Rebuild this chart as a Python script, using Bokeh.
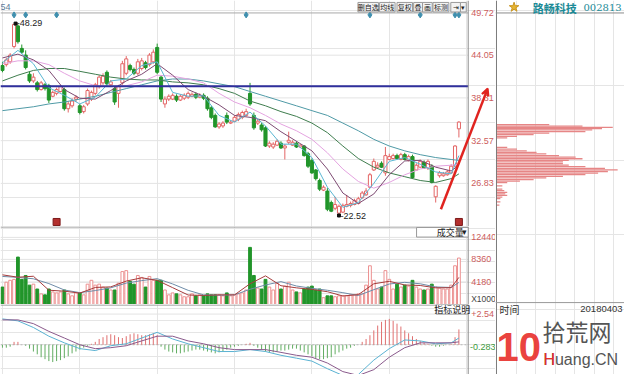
from bokeh.plotting import figure
from bokeh.models import Range1d, Span, Label, BoxAnnotation, Arrow, VeeHead, ColumnDataSource
from bokeh.layouts import row, column
from bokeh.embed import file_html
from bokeh.resources import INLINE

# ---------------- data ----------------
opens = [42.65, 42.78, 43.16, 45.22, 47.98, 44.96, 44.06, 41.49, 40.59, 40.33,
         39.43, 40.07, 39.95, 38.53, 38.92, 39.17, 39.43, 36.86, 37.25, 38.15,
         37.25, 36.47, 37.50, 38.15, 38.92, 39.82, 40.33, 41.75, 40.07, 39.56,
         38.92, 40.33, 41.62, 42.65, 42.13, 41.62, 42.26, 43.03, 42.78, 43.16,
         45.09, 41.10, 37.50, 38.15, 38.15, 38.53, 38.02, 38.27, 38.40, 38.53,
         38.79, 38.40, 38.66, 38.27, 36.99, 35.96, 34.42, 34.55, 35.96, 34.93,
         35.19, 35.45, 35.70, 35.96, 38.92, 35.96, 34.93, 34.67, 34.29, 31.85,
         31.72, 31.97, 32.23, 31.59, 32.36, 31.97, 32.23, 31.72, 31.85, 30.82,
         29.92, 28.63, 27.22, 25.93, 25.80, 24.26, 23.49, 22.84, 22.97, 23.75,
         23.88, 24.00, 24.13, 24.90, 25.29, 26.32, 28.63, 29.01, 29.53, 28.24,
         30.04, 30.17, 30.56, 30.04, 30.69, 29.92, 30.43, 28.63, 29.01, 29.66,
         28.89, 29.14, 25.03, 27.86, 27.86, 27.99, 28.24, 29.14, 34.16]
highs = [43.16, 43.68, 44.32, 48.29, 48.18, 45.48, 44.70, 41.88, 41.62, 40.59,
         40.59, 40.33, 40.20, 39.30, 39.69, 40.07, 39.69, 37.89, 38.27, 38.66,
         37.50, 37.37, 39.56, 39.30, 40.33, 41.36, 41.62, 42.00, 40.72, 39.82,
         40.07, 43.29, 43.93, 42.90, 42.39, 43.55, 43.68, 43.29, 44.32, 44.83,
         45.60, 41.36, 38.53, 38.79, 38.92, 38.79, 38.79, 38.92, 39.17, 39.05,
         39.05, 38.92, 38.92, 38.53, 37.25, 36.22, 35.06, 35.19, 36.35, 35.32,
         35.96, 36.35, 36.60, 36.86, 40.33, 36.35, 35.45, 34.93, 34.55, 32.49,
         32.36, 32.75, 32.49, 32.10, 33.78, 32.62, 32.49, 32.10, 31.97, 31.07,
         30.17, 28.76, 27.47, 26.57, 26.19, 24.52, 25.03, 24.00, 24.13, 25.29,
         24.39, 24.77, 25.03, 25.80, 26.19, 28.24, 30.17, 29.66, 29.79, 31.72,
         30.82, 30.82, 30.82, 30.94, 30.94, 30.69, 30.69, 29.53, 30.04, 29.92,
         30.04, 29.40, 26.57, 28.50, 28.37, 28.63, 29.40, 31.97, 35.19]
lows = [41.75, 42.52, 42.90, 44.96, 45.60, 44.19, 42.13, 40.33, 40.33, 39.17,
        39.30, 39.30, 37.63, 38.40, 38.66, 39.05, 36.60, 36.35, 36.99, 37.76,
        36.09, 36.22, 37.25, 37.89, 38.66, 39.56, 40.07, 39.95, 39.82, 37.37,
        36.99, 40.07, 41.36, 41.88, 41.36, 41.36, 42.00, 42.13, 42.52, 42.90,
        41.49, 37.76, 36.99, 37.89, 38.02, 37.76, 37.89, 38.02, 38.15, 38.40,
        38.15, 38.27, 38.02, 36.60, 35.45, 34.29, 34.16, 34.29, 34.80, 34.80,
        35.06, 35.19, 35.45, 35.83, 37.25, 34.03, 34.67, 33.78, 31.72, 31.59,
        31.46, 31.85, 31.46, 30.04, 32.10, 31.85, 31.59, 31.59, 30.43, 28.89,
        28.11, 27.22, 25.80, 25.80, 23.10, 22.97, 23.23, 22.52, 22.84, 23.62,
        23.62, 23.88, 24.00, 24.77, 25.16, 26.19, 28.50, 28.89, 28.89, 27.86,
        29.92, 30.04, 30.04, 29.92, 29.92, 29.79, 27.47, 28.50, 28.89, 28.76,
        28.63, 26.83, 24.26, 27.60, 27.73, 27.86, 28.11, 29.01, 33.00]
closes = [42.00, 43.42, 44.06, 48.18, 45.86, 44.45, 42.39, 40.59, 41.10, 39.43,
          40.33, 39.56, 38.02, 39.05, 39.43, 39.82, 36.86, 37.50, 37.89, 38.40,
          36.35, 37.12, 39.30, 39.05, 40.07, 41.10, 41.23, 40.20, 40.46, 37.76,
          39.82, 42.90, 43.55, 42.13, 41.62, 43.16, 43.29, 42.39, 44.06, 44.45,
          41.75, 38.15, 38.15, 38.53, 38.66, 38.02, 38.53, 38.66, 38.92, 38.79,
          38.40, 38.66, 38.27, 36.86, 35.70, 34.42, 34.80, 34.93, 35.06, 35.06,
          35.70, 36.09, 36.35, 36.47, 37.50, 34.29, 35.19, 34.03, 31.85, 32.23,
          32.10, 32.49, 31.59, 31.85, 32.62, 32.36, 31.72, 31.97, 30.56, 29.14,
          28.24, 27.47, 26.06, 26.32, 23.36, 23.10, 24.00, 23.75, 23.88, 24.00,
          24.13, 24.52, 24.77, 25.54, 25.80, 27.99, 29.79, 29.27, 29.01, 30.56,
          30.43, 30.56, 30.17, 30.69, 30.04, 30.43, 27.60, 29.27, 29.79, 28.89,
          29.79, 26.96, 26.44, 28.24, 28.11, 28.37, 29.14, 31.85, 35.06]
volumes = [3230, 4130, 4485, 4660, 8790, 4660, 5380, 3590, 3770, 2870,
           1970, 1790, 2870, 2330, 2150, 2330, 2690, 1970, 1610, 2150,
           2150, 1790, 3770, 4485, 3590, 3770, 3230, 3050, 2690, 2690,
           3950, 6100, 6280, 4300, 3770, 5380, 5020, 3230, 5200, 4485,
           4485, 4485, 2690, 1790, 2150, 1970, 1790, 1435, 1435, 1970,
           1610, 1790, 1610, 1970, 1790, 1790, 1790, 1610, 2150, 1610,
           1790, 1970, 2150, 2690, 10590, 5380, 3050, 2870, 4660, 3230,
           2690, 3950, 2870, 3410, 4130, 2690, 2330, 2150, 2870, 3230,
           3410, 2690, 2870, 1260, 1610, 1610, 1435, 1610, 1610, 1610,
           1790, 1790, 1970, 1970, 3590, 7180, 4480, 2870, 3230, 6280,
           4660, 2870, 3770, 3230, 3590, 3410, 4480, 3230, 2870, 2690,
           2870, 3770, 3230, 3050, 2870, 2870, 3590, 7180, 8610]
macd_hist = [-0.24, -0.24, -0.16, 0.24, 0.24, 0, -0.08, -0.32, -0.56, -0.79,
             -1.03, -1.19, -1.35, -1.43, -1.35, -1.27, -1.11, -0.95, -0.71, -0.56,
             -0.40, -0.24, -0.08, 0.08, 0.24, 0.48, 0.63, 0.79, 0.87, 0.79,
             0.63, 0.56, 0.71, 0.87, 0.95, 0.87, 0.79, 0.79, 0.87, 0.95,
             0.79, -0.16, -0.40, -0.56, -0.63, -0.71, -0.71, -0.63, -0.56, -0.48,
             -0.40, -0.40, -0.48, -0.56, -0.63, -0.71, -0.63, -0.56, -0.40, -0.24,
             -0.16, -0.08, 0, 0.08, 0.16, -0.08, -0.24, -0.40, -0.56, -0.63,
             -0.63, -0.56, -0.48, -0.48, -0.40, -0.32, -0.32, -0.48, -0.63, -0.79,
             -0.95, -1.11, -1.19, -1.19, -1.11, -1.03, -0.79, -0.63, -0.48, -0.32,
             -0.24, -0.08, 0, 0.24, 0.48, 0.79, 1.19, 1.59, 1.90, 2.06,
             2.14, 1.98, 1.75, 1.51, 1.19, 0.95, 0.71, 0.48, 0.32, 0.16,
             0.08, -0.08, -0.16, -0.16, -0.08, 0, 0.08, 0.63, 1.27]

# moving averages, read at every 4th session
ma_idx = [0, 4, 8, 12, 16, 20, 24, 28, 32, 36, 40, 44, 48, 52, 56, 60,
          64, 68, 72, 76, 80, 84, 88, 92, 96, 100, 104, 108, 112, 116, 118]
ma5 = [43.03, 44.70, 42.90, 39.69, 38.66, 37.50, 38.40, 40.59, 40.85, 42.65, 43.16, 39.05, 38.53, 38.60, 35.96, 35.06,
       36.41, 34.55, 32.10, 32.10, 30.30, 26.32, 23.62, 24.26, 26.83, 29.79, 30.30, 29.40, 28.37, 28.11, 30.56]
ma10 = [43.68, 44.19, 43.42, 42.00, 39.43, 38.27, 38.15, 39.30, 40.59, 41.49, 42.90, 41.36, 39.43, 38.53, 37.37, 35.96,
        35.70, 35.25, 33.77, 32.49, 31.20, 28.76, 25.54, 24.13, 25.41, 27.99, 29.85, 29.92, 29.01, 28.50, 29.27]
ma20 = [42.90, 43.29, 43.29, 42.78, 41.62, 40.59, 39.95, 39.82, 39.95, 40.46, 41.36, 41.23, 40.85, 40.33, 38.92, 37.76,
        36.99, 35.96, 34.80, 33.90, 32.75, 30.94, 28.76, 27.09, 26.19, 26.96, 27.99, 28.76, 29.14, 29.27, 29.40]
ma30 = [40.59, 41.36, 42.00, 42.26, 42.26, 41.88, 41.49, 41.10, 40.85, 40.72, 40.72, 40.46, 40.33, 40.07, 39.56, 38.92,
        37.89, 37.25, 36.47, 35.83, 34.93, 33.65, 31.85, 30.17, 29.01, 28.24, 27.73, 27.22, 26.96, 27.47, 28.11]
ma60 = [36.60, 36.86, 37.12, 37.50, 37.76, 38.15, 38.53, 39.05, 39.56, 40.07, 40.59, 40.85, 40.85, 40.59, 40.20, 39.82,
        39.17, 38.53, 37.89, 37.25, 36.60, 35.96, 34.93, 33.90, 32.75, 31.85, 31.20, 30.69, 30.30, 30.04, 29.92]
vol_ma5 = [5500, 5060, 5240, 2650, 2470, 2110, 3160, 3270, 4340, 4950, 4480, 3120, 1760, 1680, 1790, 1790,
           3840, 5310, 3480, 3090, 2800, 2370, 1580, 1830, 3840, 4300, 3620, 3520, 3090, 3120, 5020]
vol_ma10 = [5200, 5030, 4770, 3880, 2690, 2200, 2580, 3090, 3970, 4430, 4790, 3810, 2630, 1790, 1720, 1790,
            2820, 3620, 4240, 3430, 3000, 2640, 2190, 1670, 2750, 3800, 4110, 3840, 3250, 3160, 4090]
dif = [2.14, 1.98, 1.43, 0.71, 0.16, -0.32, -0.48, -0.08, 0.08, 0.56, 1.03, 0.48, 0.08, -0.24, -0.56, -0.56,
       -0.40, -0.56, -0.87, -1.11, -1.35, -1.98, -2.54, -2.46, -1.27, -0.32, 0.40, 0.32, 0.08, 0.16, 0.56]
dea = [2.06, 2.06, 1.75, 1.11, 0.56, 0.00, -0.32, -0.24, -0.08, 0.32, 0.71, 0.71, 0.32, 0.08, -0.24, -0.40,
       -0.40, -0.40, -0.63, -0.87, -1.03, -1.51, -2.22, -2.54, -2.06, -1.03, -0.24, 0.16, 0.16, 0.16, 0.24]

# chip distribution (price level -> relative amount)
chip_price = [34.76, 34.55, 34.38, 34.20, 34.03, 33.81, 33.61, 33.39, 33.17, 32.96,
              31.68, 31.46, 31.24, 31.03, 30.82, 30.60, 30.39, 30.17, 29.95, 29.75, 29.53, 29.31,
              29.11, 28.89, 28.67, 28.46, 28.24, 28.03, 27.82, 27.60, 27.38, 27.18, 26.96,
              26.53, 26.10, 25.89, 25.67, 25.45, 25.25, 25.03, 24.81, 24.39, 23.96]
chip_amt = [54, 88, 119, 108, 98, 91, 54, 38, 21, 11,
            11, 21, 31, 41, 51, 64, 81, 88, 74, 68, 68, 74,
            91, 111, 124, 114, 104, 91, 68, 51, 38, 24, 11,
            6, 6, 8, 11, 9, 11, 6, 4, 4, 3]

price_ticks = [49.72, 44.05, 38.31, 32.57, 26.83]
price_tick_labels = ["49.72", "44.05", "38.31", "32.57", "26.83"]
vol_ticks = [4180, 8360, 12440]
vol_tick_labels = ["4180", "8360", "12440"]
macd_ticks = [2.54]
macd_tick_labels = ["+2.54"]

info_marks = [3, 6, 14, 63, 95, 108, 117, 118]     # blue info markers
event_marks = [14, 118]                             # red event squares
resistance = 39.88                                  # hand drawn navy line
arrow_from = (113.35, 23.36)
arrow_to = (125.44, 39.56)

stock_name = "路畅科技"
stock_code = "002813"
date_text = "20180403"
buttons = ["删自选", "均线", "复权", "叠", "画", "标测", "⇥", "▾"]
btn_left = [91.9, 97.5, 102.0, 106.3, 108.6, 111.3, 115.9, 118.4]
btn_right = [97.2, 101.5, 106.0, 108.6, 111.1, 115.4, 118.4, 119.9]

# ---------------- styling ----------------
UP = "#e36666"
UPV = "#ec9090"
DN = "#21952a"
AX = "#8a8a8a"
GRID = "#e3e3e3"
TICKC = "#cc5c5c"
NUMFONT = "Liberation Sans"
CJK = "Noto Sans CJK SC"

XR = (-0.504, 127.46)   # left panels: candles, then the value-label column
DIV = 120.40            # position of the divider between candles and value labels
LBLX = 121.16           # where value labels start


def mk(w, h, xr, yr):
    return figure(width=w, height=h, x_range=Range1d(*xr), y_range=Range1d(*yr),
                  output_backend="svg", toolbar_location=None, tools="",
                  x_axis_location=None, y_axis_location=None,
                  min_border_left=0, min_border_right=0, min_border_top=0, min_border_bottom=0,
                  outline_line_color=None, background_fill_color="white", border_fill_color="white")


def lab(p, x, y, text, size="9px", color="#333333", font=NUMFONT, align="left", style="normal", alpha=1.0):
    p.add_layout(Label(x=x, y=y, text=text, text_font_size=size, text_color=color, text_font=font,
                       text_align=align, text_baseline="middle", text_font_style=style, text_alpha=alpha))


def hlines(p, locs, color, width=1, dash="solid"):
    p.segment(x0=[XR[0]] * len(locs), y0=locs, x1=[DIV] * len(locs), y1=locs,
              line_color=color, line_width=width, line_dash=dash)


def value_labels(p, ticks, labels, color=TICKC):
    for t, s in zip(ticks, labels):
        lab(p, LBLX, t, s, size="9px", color=color)


def divider(p):
    p.add_layout(Span(location=DIV, dimension="height", line_color=AX, line_width=1))


N = len(closes)
idx = list(range(N))
is_up = [c >= o for o, c in zip(opens, closes)]
src = ColumnDataSource(dict(
    x=idx, o=opens, h=highs, l=lows, c=closes,
    top=[max(o, c) for o, c in zip(opens, closes)],
    bot=[min(o, c) for o, c in zip(opens, closes)],
    col=[UP if u else DN for u in is_up],
    fill=["white" if u else DN for u in is_up],
    vcol=[UPV if u else DN for u in is_up],
    vol=volumes,
))

# ---------------- main price panel ----------------
main = mk(495, 226, XR, (21.042, 51.392))
hlines(main, price_ticks[1:], GRID)
hlines(main, price_ticks[:1], "#a8a8a8")
main.segment(x0="x", y0="l", x1="x", y1="h", line_color="col", line_width=1, source=src)
main.vbar(x="x", width=0.8, top="top", bottom="bot", fill_color="fill", line_color="col",
          line_width=1, source=src)
for arr, c in [(ma60, "#4f9aa6"), (ma30, "#3f7d4e"), (ma20, "#e4a3e0"), (ma10, "#7d4a72"), (ma5, "#59b6d2")]:
    main.line(ma_idx, arr, line_color=c, line_width=1)
hlines(main, [resistance], "#2f2f9c", width=2)
main.scatter(info_marks, [49.46] * len(info_marks), marker="diamond", size=6,
             fill_color="#3f8fae", line_color="#3f8fae")
main.scatter(event_marks, [21.65] * len(event_marks), marker="square", size=7,
             fill_color="#b3302e", line_color="#7c1a1a")
hi_i = highs.index(max(highs))
lo_i = lows.index(min(lows))
main.scatter([hi_i + 0.4], [max(highs)], marker="square", size=3, color="#111111")
main.scatter([lo_i], [min(lows)], marker="square", size=3, color="#111111")
lab(main, hi_i + 0.7, max(highs) + 0.12, "-%.2f" % max(highs), size="9px", color="#222222")
lab(main, lo_i + 0.4, min(lows) - 0.05, "-%.2f" % min(lows), size="9px", color="#222222")
divider(main)
value_labels(main, price_ticks, price_tick_labels)
main.add_layout(Arrow(end=VeeHead(size=7, line_color="#e0231f", fill_color="#e0231f", line_width=2),
                      x_start=arrow_from[0], y_start=arrow_from[1], x_end=arrow_to[0], y_end=arrow_to[1],
                      line_color="#e0231f", line_width=2.5))
for t, l, r in zip(buttons, btn_left, btn_right):
    main.add_layout(BoxAnnotation(left=l, right=r, bottom=49.85, top=51.13, fill_color="#f3f3f3",
                                  fill_alpha=1, line_color="#9a9a9a", line_alpha=1, line_width=1))
    lab(main, (l + r) / 2, 50.49, t, size="7px", color="#222222", font=CJK, align="center")
lab(main, -0.5, 50.55, "54", size="9px", color="#5b7b99")

# ---------------- volume panel ----------------
vol = mk(495, 78, XR, (0, 14460))
hlines(vol, vol_ticks, GRID)
hlines(vol, [14370], AX)
vol.vbar(x="x", width=0.72, top="vol", bottom=0, fill_color="fill", line_color="vcol", line_width=1, source=src)
vol.line(ma_idx, vol_ma10, line_color="#6f8ca8", line_width=1)
vol.line(ma_idx, vol_ma5, line_color="#a63c3c", line_width=1)
divider(vol)
value_labels(vol, vol_ticks, vol_tick_labels)
vol.add_layout(BoxAnnotation(left=107.05, right=DIV, bottom=12500, top=14280, fill_color="white",
                             fill_alpha=1, line_color="#9a9a9a", line_alpha=1, line_width=1))
lab(vol, 112.3, 13390, "成交量", size="9px", color="#222222", font=CJK)
lab(vol, 119.4, 13390, "▾", size="9px", color="#222222", align="center")
lab(vol, LBLX, 1070, "X1000", size="8.5px", color="#444444")

# ---------------- MACD panel ----------------
macd = mk(495, 70, XR, (-2.46, 3.333))
hlines(macd, [2.54], GRID)
hlines(macd, [0], "#b8b8b8", dash="2 2")
hlines(macd, [3.29], AX)
macd.segment(x0=idx, y0=[0] * N, x1=idx, y1=macd_hist,
             line_color=["#e07070" if v >= 0 else "#62ad62" for v in macd_hist], line_width=1)
macd.line(ma_idx, dif, line_color="#5ab2d2", line_width=1)
macd.line(ma_idx, dea, line_color="#8a5a8c", line_width=1)
divider(macd)
value_labels(macd, macd_ticks, macd_tick_labels)
macd.add_layout(BoxAnnotation(left=112.1, right=DIV, bottom=2.54, top=3.333, fill_color="white",
                              fill_alpha=1, line_color="#9a9a9a", line_alpha=1, line_width=1))
lab(macd, 116.25, 2.94, "指标说明", size="9px", color="#222222", font=CJK, align="center")
lab(macd, LBLX - 0.3, -0.16, "-0.283", size="9px", color="#3d9a3d")

# ---------------- right panel (chip distribution) ----------------
right = mk(129, 374, (-1, 131), (1.237, 51.392))
right.hbar(y=chip_price, left=0, right=chip_amt, height=0.17, fill_color="#e68686", line_color=None)
right.add_layout(Span(location=0, dimension="height", line_color="#7a7a7a", line_width=1))
right.add_layout(Span(location=49.72, dimension="width", line_color=AX, line_width=1))
right.add_layout(Span(location=10.88, dimension="width", line_color="#9a9a9a", line_width=1))
right.scatter([18], [50.49], marker="star", size=10, fill_color="#e6b430", line_color="#c99520")
lab(right, 37, 50.45, stock_name, size="11px", color="#1b8a96", font=CJK, style="bold")
lab(right, 89, 50.45, stock_code, size="10px", color="#1b8a96", font="DejaVu Serif")
lab(right, 3, 9.98, "时间", size="10px", color="#333333", font=CJK)
lab(right, 129, 9.98, date_text, size="9.5px", color="#333333", align="right")
# watermark
lab(right, 0, 4.9, "10", size="40px", color="#e8302c", font=NUMFONT, style="bold", alpha=0.92)
lab(right, 47, 7.1, "拾荒网", size="23px", color="#555555", font=CJK)
lab(right, 48, 3.3, "Huang.CN", size="16px", color="#555555", font=NUMFONT)
lab(right, 48, 3.3, "H", size="16px", color="#e8302c", font=NUMFONT)

layout = row(column(main, vol, macd), right)
open("out.html", "w").write(file_html(layout, INLINE))
